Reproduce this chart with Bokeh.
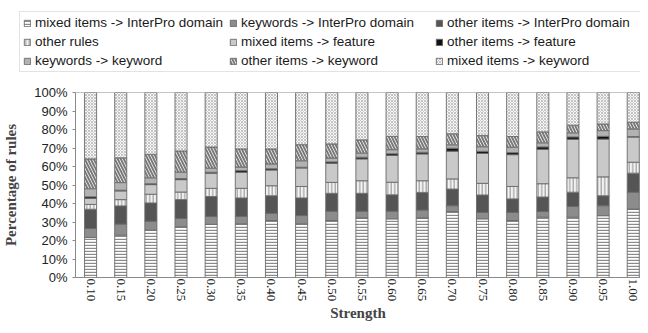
from bokeh.plotting import figure
from bokeh.models import (Range1d, FixedTicker, NumeralTickFormatter, PrintfTickFormatter,
                          Legend, LegendItem, ColumnDataSource, Span)
from bokeh.embed import file_html
from bokeh.resources import INLINE

# ---------------- data ----------------
strength = [0.10, 0.15, 0.20, 0.25, 0.30, 0.35, 0.40, 0.45, 0.50, 0.55,
            0.60, 0.65, 0.70, 0.75, 0.80, 0.85, 0.90, 0.95, 1.00]

series_names = ["mixed items -> InterPro domain", "keywords -> InterPro domain",
                "other items -> InterPro domain", "other rules",
                "mixed items -> feature", "other items -> feature",
                "keywords -> keyword", "other items -> keyword",
                "mixed items -> keyword"]

mixed_interpro = [21.6, 22.9, 25.6, 27.4, 28.7, 29.0, 30.8, 29.0, 30.8, 32.2,
                  31.7, 32.2, 35.6, 31.7, 30.8, 32.6, 32.6, 33.4, 37.0]
keywords_interpro = [4.9, 6.0, 4.8, 4.5, 4.3, 4.0, 3.9, 4.5, 5.0, 3.6,
                     4.1, 4.3, 3.2, 3.5, 4.4, 3.1, 5.8, 5.4, 9.1]
other_interpro = [10.4, 9.8, 9.9, 10.2, 10.8, 10.0, 9.5, 9.5, 9.7, 9.7,
                  8.9, 9.5, 9.0, 9.4, 7.3, 7.8, 7.7, 5.4, 10.3]
other_rules = [2.6, 3.4, 4.7, 4.1, 4.4, 5.2, 5.4, 6.2, 5.9, 6.8,
               6.8, 6.3, 5.5, 6.3, 6.7, 7.2, 7.8, 10.2, 5.9]
mixed_feature = [3.2, 4.7, 5.2, 6.7, 8.2, 8.7, 8.5, 10.0, 10.3, 11.8,
                 14.5, 14.5, 15.0, 16.2, 17.2, 18.6, 20.8, 20.4, 13.6]
other_feature = [0.9, 0.4, 0.5, 0.6, 0.5, 0.9, 0.7, 0.4, 0.8, 0.9,
                 0.9, 0.9, 1.6, 1.1, 1.1, 1.3, 1.3, 1.5, 0.3]
keywords_keyword = [4.4, 4.1, 3.2, 3.5, 2.2, 1.9, 2.6, 3.5, 2.1, 2.2,
                    2.2, 1.8, 1.8, 2.5, 2.9, 2.2, 2.2, 3.1, 4.1]
other_keyword = [16.1, 13.4, 12.7, 11.4, 11.4, 9.8, 8.1, 8.7, 7.6, 7.2,
                 7.2, 6.7, 6.0, 6.0, 5.8, 5.9, 4.1, 3.6, 3.6]
mixed_keyword = [35.9, 35.3, 33.4, 31.6, 29.5, 30.5, 30.5, 28.2, 27.8, 25.6,
                 23.7, 23.8, 22.3, 23.3, 23.8, 21.3, 17.7, 17.0, 16.1]

y_ticks = [0, 10, 20, 30, 40, 50, 60, 70, 80, 90, 100]

keys = ["s1", "s2", "s3", "s4", "s5", "s6", "s7", "s8", "s9"]
source = ColumnDataSource(dict(
    x=strength, s1=mixed_interpro, s2=keywords_interpro, s3=other_interpro,
    s4=other_rules, s5=mixed_feature, s6=other_feature, s7=keywords_keyword,
    s8=other_keyword, s9=mixed_keyword))

# ---------------- styles ----------------
fills = ["#ffffff", "#8c8c8c", "#555555", "#f2f2f2", "#c9c9c9", "#111111",
         "#b2b2b2", "#ffffff", "#f6f6f6"]
hatches = ["-", " ", " ", "|", " ", " ", " ", "\\", "x"]
hatch_colors = ["#8a8a8a", "#000000", "#000000", "#a0a0a0", "#000000", "#000000",
                "#000000", "#7a7a7a", "#c4c4c4"]
hatch_scales = [3.0, 12, 12, 3.5, 12, 12, 12, 6.0, 3.0]
hatch_weights = [1.4, 1, 1, 1.2, 1, 1, 1, 2.0, 1.0]
edge = "#6a6a6a"

# ---------------- legend strip (same stacks, drawn out of view) ----------------
leg = figure(width=640, height=72, output_backend="svg", toolbar_location=None,
             x_range=Range1d(0.075, 1.012), y_range=Range1d(1000, 1001),
             x_axis_location=None, y_axis_location=None,
             min_border_left=0, min_border_right=0, min_border_top=0,
             min_border_bottom=0)
leg.xgrid.visible = False
leg.ygrid.visible = False
leg.outline_line_color = None
leg_renderers = leg.vbar_stack(keys, x="x", width=0.02, source=source,
                               fill_color=fills, hatch_pattern=hatches,
                               hatch_color=hatch_colors, hatch_scale=hatch_scales,
                               hatch_weight=hatch_weights, line_color=edge,
                               line_width=0.9)
leg_items = [LegendItem(label=n, renderers=[r]) for n, r in zip(series_names, leg_renderers)]
legend = Legend(items=leg_items, location=(19, 0), orientation="horizontal", ncols=3,
                glyph_width=8, glyph_height=8, label_standoff=4, label_width=190,
                label_height=15, spacing=4, padding=3, margin=0,
                label_text_font="Liberation Sans", label_text_font_size="13.5px",
                label_text_color="#1a1a1a", border_line_color="#c8c8c8",
                border_line_width=1, background_fill_color="white",
                background_fill_alpha=1.0)
leg.add_layout(legend, "center")

# ---------------- main chart ----------------
p = figure(width=640, height=261, output_backend="svg", toolbar_location=None,
           x_range=Range1d(0.075, 1.012), y_range=Range1d(0, 100),
           min_border_left=74, min_border_right=0, min_border_top=20,
           min_border_bottom=56)

p.vbar_stack(keys, x="x", width=0.02, source=source,
             fill_color=fills, hatch_pattern=hatches,
             hatch_color=hatch_colors, hatch_scale=hatch_scales,
             hatch_weight=hatch_weights, line_color=edge, line_width=0.9)

p.xgrid.visible = False
p.ygrid.visible = False
p.outline_line_color = None
p.add_layout(Span(location=y_ticks[-1], dimension="width", line_color="#8a8a8a",
                  line_width=1))

# y axis
p.yaxis.ticker = FixedTicker(ticks=y_ticks)
p.yaxis.formatter = PrintfTickFormatter(format="%d%%")
p.yaxis.axis_label = "Percentage of rules"
p.yaxis.axis_label_text_font = "Liberation Serif"
p.yaxis.axis_label_text_font_style = "bold"
p.yaxis.axis_label_text_font_size = "15px"
p.yaxis.axis_label_standoff = 12
p.yaxis.major_label_text_font = "Liberation Sans"
p.yaxis.major_label_text_font_size = "13px"
p.yaxis.major_label_text_color = "#222222"
p.yaxis.major_label_standoff = 5
p.yaxis.axis_line_color = "#8a8a8a"
p.yaxis.major_tick_line_color = "#8a8a8a"
p.yaxis.major_tick_out = 3
p.yaxis.major_tick_in = 0
p.yaxis.minor_tick_line_color = None

# x axis
p.xaxis.ticker = FixedTicker(ticks=strength)
p.xaxis.formatter = NumeralTickFormatter(format="0.00")
p.xaxis.major_label_orientation = "vertical"
p.xaxis.axis_label = "Strength"
p.xaxis.axis_label_text_font = "Liberation Serif"
p.xaxis.axis_label_text_font_style = "bold"
p.xaxis.axis_label_text_font_size = "15px"
p.xaxis.axis_label_standoff = 1
p.xaxis.major_label_text_font = "Liberation Serif"
p.xaxis.major_label_text_font_size = "13px"
p.xaxis.major_label_text_color = "#222222"
p.xaxis.major_label_standoff = 1
p.xaxis.axis_line_color = "#8a8a8a"
p.xaxis.major_tick_line_color = None
p.xaxis.major_tick_out = 0
p.xaxis.major_tick_in = 0
p.xaxis.minor_tick_line_color = None

open("out.html", "w").write(file_html([leg, p], INLINE))
